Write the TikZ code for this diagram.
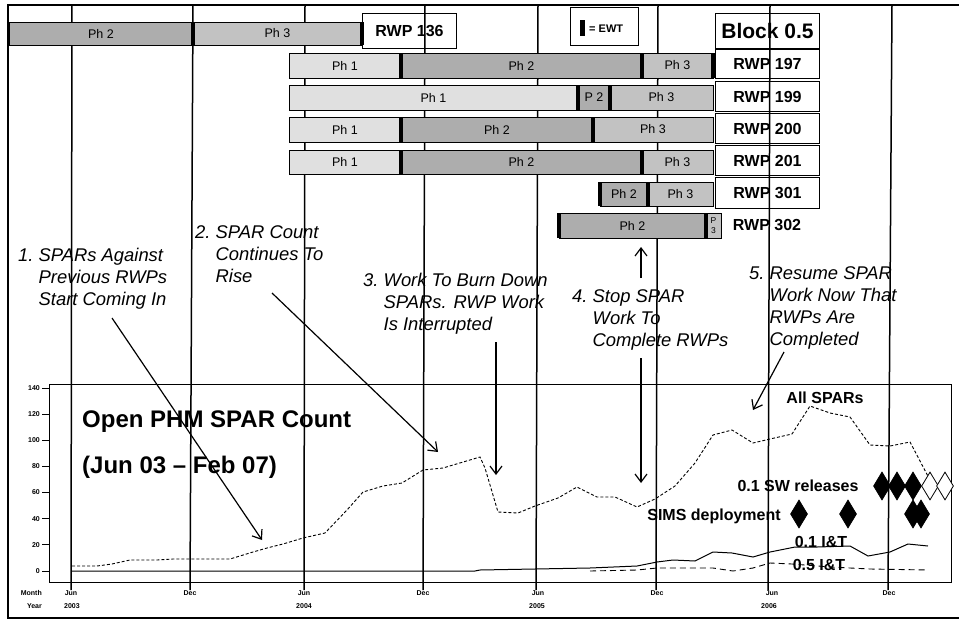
\documentclass[tikz,border=0pt]{standalone}
\usepackage{fontspec}
\setmainfont{Liberation Sans}
\usetikzlibrary{shapes.geometric,arrows.meta}
\newcommand\barpart[7]{\node[#6, anchor=north west, minimum width=#3pt-#2pt, minimum height=#5pt-#4pt] (#1) at (#2,#4) {#7};}
\begin{document}
\begin{tikzpicture}[x=1pt,y=-1pt,
  gridl/.style={line width=1.5pt},
  barseg/.style={draw, line width=0.9pt, inner sep=0pt, outer sep=0pt, font=\fontsize{12.5}{14}\selectfont},
  pone/.style={barseg, fill=black!12},
  ptwo/.style={barseg, fill=black!32},
  pthree/.style={barseg, fill=black!24},
  ewt/.style={line width=3.2pt},
  rwpbox/.style={draw, line width=1pt, inner sep=0pt, font=\bfseries\fontsize{16}{18}\selectfont},
  ann/.style={font=\itshape\fontsize{18.4}{22}\selectfont, inner sep=0pt, anchor=base west},
  arr/.style={line width=1.2pt, -{Straight Barb[length=8pt,width=12pt,line width=1.2pt]}},
  lbl/.style={font=\bfseries\fontsize{16}{18}\selectfont, inner sep=0pt},
  ticklbl/.style={font=\bfseries\fontsize{7}{8}\selectfont, inner sep=0pt},
  dia/.style={diamond, draw, line width=0.8pt, minimum width=17pt, minimum height=28pt, inner sep=0pt},
  ttl/.style={font=\bfseries\fontsize{24}{28}\selectfont, inner sep=0pt, anchor=west},
]
\useasboundingbox (0,0) rectangle (959,619);
\fill[white] (0,0) rectangle (959,619);
% outer frame
\draw[line width=1.5pt] (959,5) -- (8,5) -- (8,618) -- (959,618);
% grid lines
\foreach \xt/\xb [count=\i] in {72/71,193/190,305/304,425/423,538/536,658/656,770/768,892/888}
  \draw[gridl] (\xt,5) -- (\xb,590);
% chart frame
\draw[line width=1pt] (49,384) rectangle (951,582);
\foreach \v in {0,20,...,140} {
  \draw[line width=0.8pt] (42,{571-\v*1.3071}) -- (49,{571-\v*1.3071});
  \node[ticklbl, anchor=east] (yt\v) at (40,{571-\v*1.3071}) {\v};
}
\node[ticklbl, anchor=east] (month) at (42,593) {Month};
\node[ticklbl, anchor=east] (year) at (42,606) {Year};
\node[ticklbl] (m1) at (71,593) {Jun};
\node[ticklbl] (y1) at (72,606) {2003};
\node[ticklbl] (m2) at (190,593) {Dec};
\node[ticklbl] (m3) at (304,593) {Jun};
\node[ticklbl] (y2) at (304,606) {2004};
\node[ticklbl] (m4) at (423,593) {Dec};
\node[ticklbl] (m5) at (538,593) {Jun};
\node[ticklbl] (y3) at (537,606) {2005};
\node[ticklbl] (m6) at (657,593) {Dec};
\node[ticklbl] (m7) at (772,593) {Jun};
\node[ticklbl] (y4) at (769,606) {2006};
\node[ticklbl] (m8) at (889,593) {Dec};
% data
\draw[line width=0.9pt, dash pattern=on 3pt off 2pt]
 (72,566) -- (97,566) -- (112,564) -- (130,560) -- (157,560) -- (173,559) -- (230,559) -- (253,552) -- (267,548) -- (283,544) -- (303,538) -- (325,533) -- (347,510) -- (363,492) -- (383,486) -- (402,483) -- (423,470) -- (443,468) -- (480,457) -- (485,468) -- (498,512) -- (518,513) -- (535,506) -- (558,498) -- (577,487) -- (597,497) -- (615,497) -- (637,507) -- (655,499) -- (675,486) -- (695,463) -- (713,435) -- (732,430) -- (753,443) -- (770,439) -- (792,434) -- (810,406) -- (830,413) -- (850,417) -- (870,445) -- (890,446) -- (910,442) -- (930,480);
\draw[line width=1pt]
 (72,571) -- (475,571) -- (480,570) -- (590,568) -- (637,566) -- (657,562) -- (673,560) -- (695,561) -- (713,552) -- (732,553) -- (753,557) -- (770,552) -- (795,547) -- (817,547) -- (850,546) -- (868,556) -- (890,552) -- (908,544) -- (928,546);
\node[lbl] (allspars) at (825,398) {All SPARs};
\node[lbl] (swrel) at (798,486) {0.1 SW releases};
\node[lbl] (sims) at (714,516) {SIMS deployment};
\node[lbl] (it1) at (821,542) {0.1 I\&T};
\node[lbl] (it5) at (819,565) {0.5 I\&T};
\draw[line width=0.9pt, dash pattern=on 6pt off 4pt]
 (590,571) -- (637,570) -- (657,568) -- (713,568) -- (733,571) -- (753,568) -- (770,563) -- (792,564) -- (830,567) -- (870,569) -- (928,570);
% diamonds
\node[dia, fill=black] (d1) at (882,486) {};
\node[dia, fill=black] (d2) at (897,486) {};
\node[dia, fill=black] (d3) at (913,486) {};
\node[dia, fill=white] (d4) at (930,486) {};
\node[dia, fill=white] (d5) at (945,486) {};
\node[dia, fill=black] (s1) at (799,514) {};
\node[dia, fill=black] (s2) at (848,514) {};
\node[dia, fill=black] (s3) at (913,514) {};
\node[dia, fill=black] (s4) at (921,514) {};
% chart title
\node[ttl] (title1) at (82,422) {Open PHM SPAR Count};
\node[ttl] (title2) at (82,467) {(Jun 03 -- Feb 07)};
% bars
\barpart{r136a}{9}{193}{22}{45}{ptwo}{Ph 2}
\barpart{r136b}{193}{362}{22}{45}{pthree}{Ph 3}
\barpart{r197a}{289}{401}{53}{78}{pone}{Ph 1}
\barpart{r197b}{401}{642}{53}{78}{ptwo}{Ph 2}
\barpart{r197c}{642}{713}{53}{78}{pthree}{Ph 3}
\barpart{r199a}{289}{578}{85}{110}{pone}{Ph 1}
\barpart{r199b}{578}{610}{85}{110}{ptwo}{P 2}
\barpart{r199c}{610}{713}{85}{110}{pthree}{Ph 3}
\barpart{r200a}{289}{401}{117}{142}{pone}{Ph 1}
\barpart{r200b}{401}{593}{117}{142}{ptwo}{Ph 2}
\barpart{r200c}{593}{713}{117}{142}{pthree}{Ph 3}
\barpart{r201a}{289}{401}{150}{174}{pone}{Ph 1}
\barpart{r201b}{401}{642}{150}{174}{ptwo}{Ph 2}
\barpart{r201c}{642}{713}{150}{174}{pthree}{Ph 3}
\barpart{r301a}{600}{648}{182}{206}{ptwo}{Ph 2}
\barpart{r301b}{648}{713}{182}{206}{pthree}{Ph 3}
\barpart{r302a}{559}{706}{213}{238}{ptwo}{Ph 2}
\barpart{r302b}{706}{721}{213}{238}{pthree, align=center, font=\fontsize{8.5}{9.5}\selectfont}{P\\3}
% EWT markers
\draw[ewt] (r136a.north east) -- (r136a.south east);
\draw[ewt] (r136b.north east) -- (r136b.south east);
\draw[ewt] (r197a.north east) -- (r197a.south east);
\draw[ewt] (r197b.north east) -- (r197b.south east);
\draw[ewt] (r197c.north east) -- (r197c.south east);
\draw[ewt] (r199b.north west) -- (r199b.south west);
\draw[ewt] (r199b.north east) -- (r199b.south east);
\draw[ewt] (r200a.north east) -- (r200a.south east);
\draw[ewt] (r200b.north east) -- (r200b.south east);
\draw[ewt] (r201a.north east) -- (r201a.south east);
\draw[ewt] (r201b.north east) -- (r201b.south east);
\draw[ewt] (r301a.north west) -- (r301a.south west);
\draw[ewt] (r301a.north east) -- (r301a.south east);
\draw[ewt] (r302a.north west) -- (r302a.south west);
\draw[ewt] (r302a.north east) -- (r302a.south east);
% boxes
\node[rwpbox, anchor=north west, minimum width=94pt, minimum height=35pt] (b136) at (362,13) {RWP 136};
\node[rwpbox, anchor=north west, minimum width=68pt, minimum height=38pt] (ewtbox) at (570,7) {};
\fill (580,20) rectangle (585,36);
\node[font=\bfseries\fontsize{11}{12}\selectfont, inner sep=0pt, anchor=west] (ewtlbl) at (589,29) {= EWT};
\node[rwpbox, anchor=north west, minimum width=104pt, minimum height=35pt, font=\bfseries\fontsize{21}{24}\selectfont] (block) at (715,13) {Block 0.5};
\node[rwpbox, anchor=north west, minimum width=104pt, minimum height=29pt] (b197) at (715,49) {RWP 197};
\node[rwpbox, anchor=north west, minimum width=104pt, minimum height=30pt] (b199) at (715,81) {RWP 199};
\node[rwpbox, anchor=north west, minimum width=104pt, minimum height=30pt] (b200) at (715,113) {RWP 200};
\node[rwpbox, anchor=north west, minimum width=104pt, minimum height=30pt] (b201) at (715,145) {RWP 201};
\node[rwpbox, anchor=north west, minimum width=104pt, minimum height=31pt] (b301) at (715,177) {RWP 301};
\node[font=\bfseries\fontsize{16}{18}\selectfont, inner sep=0pt] (b302) at (767,225) {RWP 302};
% annotations
\node[ann] (n1) at (18,261) {\begin{tabular}[t]{@{}l@{\ }l@{}}1.&SPARs Against\\&Previous RWPs\\&Start Coming In\end{tabular}};
\node[ann] (n2) at (195,238) {\begin{tabular}[t]{@{}l@{\ }l@{}}2.&SPAR Count\\&Continues To\\&Rise\end{tabular}};
\node[ann] (n3) at (363,286) {\begin{tabular}[t]{@{}l@{\ }l@{}}3.&Work To Burn Down\\&SPARs. RWP Work\\&Is Interrupted\end{tabular}};
\node[ann] (n4) at (572,302) {\begin{tabular}[t]{@{}l@{\ }l@{}}4.&Stop SPAR\\&Work To\\&Complete RWPs\end{tabular}};
\node[ann] (n5) at (749,279) {\begin{tabular}[t]{@{}l@{\ }l@{}}5.&Resume SPAR\\&Work Now That\\&RWPs Are\\&Completed\end{tabular}};
% arrows
\coordinate (a1s) at (112,318); \coordinate (a1e) at (262,540);
\coordinate (a2s) at (272,293); \coordinate (a2e) at (438,452);
\coordinate (a3s) at (496,342); \coordinate (a3e) at (496,475);
\coordinate (a4s) at (641,278); \coordinate (a4e) at (641,247);
\coordinate (a6s) at (641,358); \coordinate (a6e) at (641,483);
\coordinate (a5s) at (784,352); \coordinate (a5e) at (753,410);
\draw[arr] (a1s) -- (a1e);
\draw[arr] (a2s) -- (a2e);
\draw[arr] (a3s) -- (a3e);
\draw[arr] (a4s) -- (a4e);
\draw[arr] (a6s) -- (a6e);
\draw[arr] (a5s) -- (a5e);
\end{tikzpicture}
\end{document}
